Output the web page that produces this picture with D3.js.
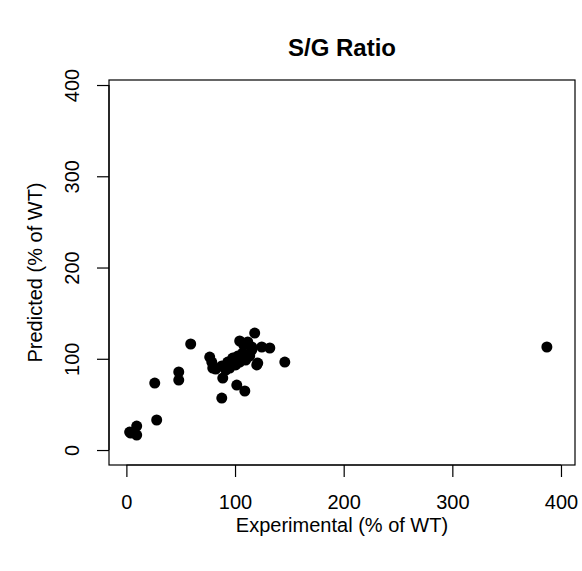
<!DOCTYPE html>
<html>
<head>
<meta charset="utf-8">
<script src="https://cdn.jsdelivr.net/npm/d3@7"></script>
<style>
  html, body { margin: 0; padding: 0; background: #fff; }
  svg { display: block; font-family: "Liberation Sans", Arial, Helvetica, sans-serif; }
</style>
</head>
<body>
<div id="chart"></div>
<script>
// ---- data ----
const experimental = [387.0, 3.0, 4.0, 9.5, 9.5, 27.9, 26.1, 48.2, 48.2, 59.2,
  118.1, 104.3, 132.0, 124.6, 115.4, 145.8, 76.7, 78.6, 79.5, 120.0,
  88.7, 101.6, 109.0, 87.8, 82.2, 87.8, 93.3, 97.9, 102.5, 107.1,
  104.3, 109.8, 113.5, 115.4, 108.0, 111.7, 120.9, 100.6, 95.1, 91.5];
const predicted = [112.9, 19.7, 18.6, 26.3, 16.4, 32.9, 73.4, 85.5, 76.7, 116.2,
  128.2, 119.5, 111.8, 112.9, 112.9, 96.4, 101.9, 96.4, 89.9, 93.2,
  78.9, 71.2, 64.7, 57.0, 88.8, 92.1, 96.4, 100.8, 103.0, 106.3,
  96.4, 98.6, 103.0, 109.6, 115.1, 118.4, 95.3, 93.2, 89.9, 87.7];
const xTicks = [0, 100, 200, 300, 400];
const yTicks = [0, 100, 200, 300, 400];
const xLim = [-16, 412.9];
const yLim = [-16.4, 405.5];
const titleText = "S/G Ratio";
const xLabel = "Experimental (% of WT)";
const yLabel = "Predicted (% of WT)";

// ---- layout ----
const W = 582, H = 571;
const plot = { left: 109, right: 575, top: 80, bottom: 465 };
const tick = 12;
const fs = 20;

const svg = d3.select("#chart").append("svg")
  .attr("width", W).attr("height", H);

const x = d3.scaleLinear().domain(xLim).range([plot.left, plot.right]);
const y = d3.scaleLinear().domain(yLim).range([plot.bottom, plot.top]);

// box
svg.append("rect")
  .attr("x", plot.left).attr("y", plot.top)
  .attr("width", plot.right - plot.left).attr("height", plot.bottom - plot.top)
  .attr("fill", "none").attr("stroke", "#000").attr("stroke-width", 1.2);

// x axis
const xAxis = d3.axisBottom(x).tickValues(xTicks).tickSize(tick).tickPadding(18)
  .tickFormat(d3.format("d"));
const gx = svg.append("g").attr("transform", `translate(0,${plot.bottom})`).call(xAxis);
gx.select(".domain").attr("d", `M${x(xTicks[0])},0H${x(xTicks[xTicks.length-1])}`)
  .attr("stroke-width", 1.2);
gx.selectAll(".tick line").attr("stroke-width", 1.2);
gx.selectAll("text").attr("font-size", fs).attr("fill", "#000")
  .attr("font-family", "Liberation Sans, Arial, sans-serif");

// y axis
const yAxis = d3.axisLeft(y).tickValues(yTicks).tickSize(tick).tickPadding(0)
  .tickFormat(d3.format("d"));
const gy = svg.append("g").attr("transform", `translate(${plot.left},0)`).call(yAxis);
gy.select(".domain").attr("d", `M0,${y(yTicks[0])}V${y(yTicks[yTicks.length-1])}`)
  .attr("stroke-width", 1.2);
gy.selectAll(".tick line").attr("stroke-width", 1.2);
gy.selectAll("text")
  .attr("font-size", fs).attr("fill", "#000")
  .attr("font-family", "Liberation Sans, Arial, sans-serif")
  .attr("x", null).attr("dy", null)
  .attr("text-anchor", "middle")
  .attr("transform", "translate(-37.5,0) rotate(-90)")
  .attr("y", 0).attr("dy", "0.35em");

// points
svg.append("g").selectAll("circle")
  .data(experimental.map((v, i) => [v, predicted[i]]))
  .join("circle")
  .attr("cx", d => x(d[0]))
  .attr("cy", d => y(d[1]))
  .attr("r", 5.5)
  .attr("fill", "#000");

// title
svg.append("text")
  .attr("x", (plot.left + plot.right) / 2).attr("y", 56)
  .attr("text-anchor", "middle").attr("font-weight", "bold")
  .attr("font-size", 24).text(titleText);

// axis titles
svg.append("text")
  .attr("x", (plot.left + plot.right) / 2).attr("y", 532)
  .attr("text-anchor", "middle").attr("font-size", fs).text(xLabel);

svg.append("text")
  .attr("transform", `translate(42,${(plot.top + plot.bottom) / 2}) rotate(-90)`)
  .attr("text-anchor", "middle").attr("font-size", fs).text(yLabel);
</script>
</body>
</html>
